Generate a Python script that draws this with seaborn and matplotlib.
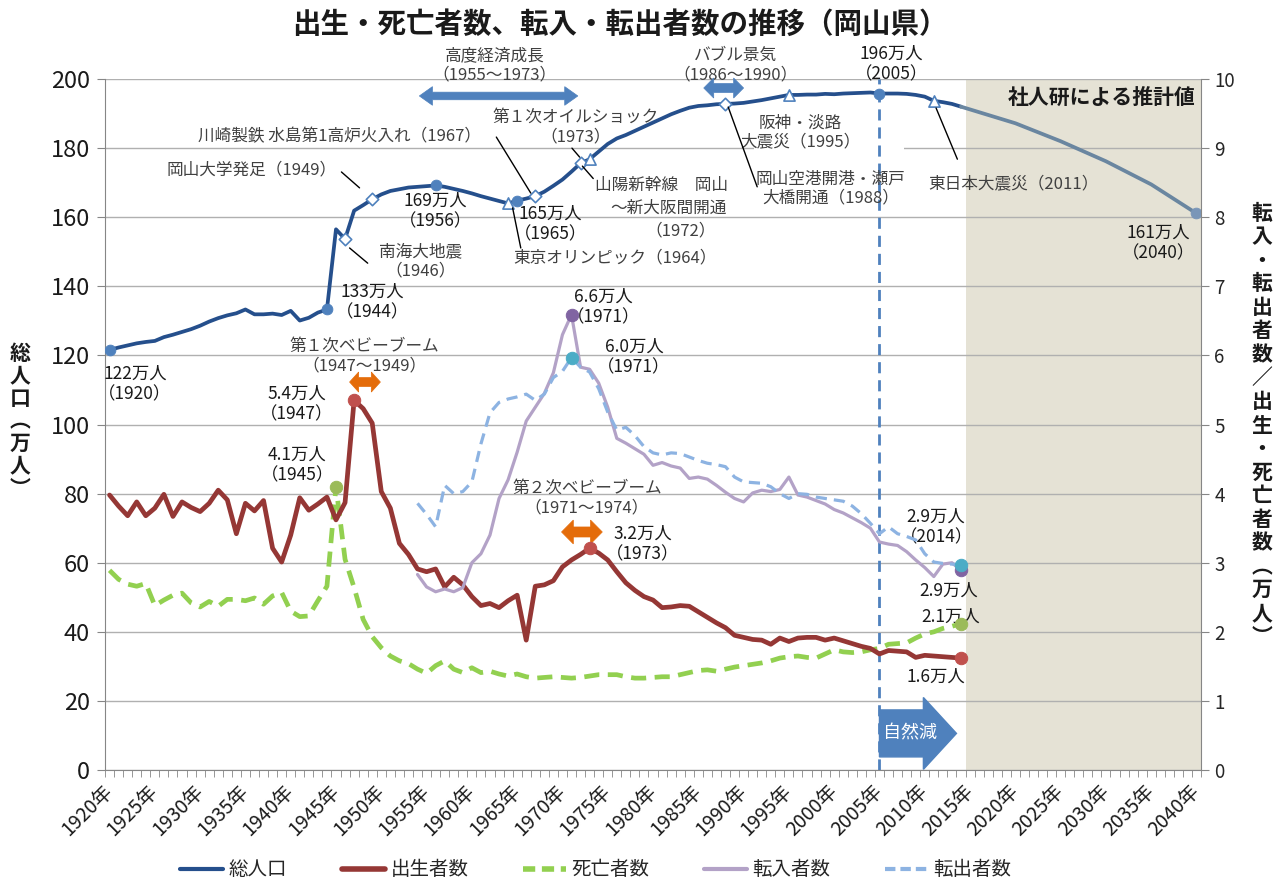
import numpy as np
import pandas as pd
import matplotlib
matplotlib.use("Agg")
import matplotlib.pyplot as plt
import seaborn as sns
from matplotlib.patches import Polygon, FancyArrow, Rectangle
from matplotlib.lines import Line2D

# === Data ===
years = list(range(1920, 2015))
total_pop = [
    121.6, 122.3, 122.9, 123.5, 123.9, 124.2, 125.3, 126.0, 126.8, 127.6,
    128.6, 129.8, 130.8, 131.6, 132.2, 133.3, 131.9, 131.9, 132.1, 131.7,
    132.9, 130.1, 130.9, 132.4, 133.3, 156.5, 153.7, 161.9, 163.5, 165.2,
    166.6, 167.6, 168.1, 168.6, 168.8, 169.0, 169.2, 168.8, 168.2, 167.6,
    166.9, 166.1, 165.4, 164.7, 164.0, 164.8, 165.4, 166.1, 167.4, 169.1,
    170.9, 173.2, 175.6, 176.8, 179.0, 181.2, 182.8, 183.8, 185.0, 186.2,
    187.4, 188.6, 189.8, 190.8, 191.7, 192.2, 192.4, 192.7, 192.8, 192.9,
    193.1, 193.5, 193.9, 194.4, 194.9, 195.4, 195.4, 195.5, 195.5, 195.7,
    195.6, 195.8, 195.9, 196.0, 196.1, 195.8, 195.8, 195.8, 195.7, 195.4,
    194.9, 193.7, 193.3, 192.8, 192.0,
]
births = [
    3.98, 3.82, 3.68, 3.88, 3.68, 3.79, 3.99, 3.67, 3.88, 3.80,
    3.74, 3.86, 4.05, 3.91, 3.42, 3.86, 3.75, 3.90, 3.21, 3.01,
    3.40, 3.94, 3.76, 3.85, 3.95, 3.62, 3.87, 5.35, 5.23, 5.02,
    4.03, 3.79, 3.28, 3.12, 2.91, 2.87, 2.91, 2.65, 2.79, 2.68,
    2.51, 2.38, 2.41, 2.35, 2.45, 2.53, 1.88, 2.66, 2.68, 2.74,
    2.94, 3.04, 3.12, 3.21, 3.14, 3.04, 2.87, 2.71, 2.60, 2.51,
    2.46, 2.35, 2.36, 2.38, 2.37, 2.29, 2.21, 2.13, 2.06, 1.95,
    1.92, 1.89, 1.88, 1.82, 1.91, 1.86, 1.91, 1.92, 1.92, 1.88,
    1.91, 1.87, 1.83, 1.79, 1.76, 1.68, 1.73, 1.72, 1.71, 1.63,
    1.66, 1.65, 1.64, 1.63, 1.62,
]
deaths = [
    2.89, 2.76, 2.69, 2.66, 2.70, 2.38, 2.46, 2.53, 2.56, 2.42,
    2.36, 2.44, 2.37, 2.47, 2.47, 2.45, 2.49, 2.40, 2.52, 2.57,
    2.30, 2.22, 2.23, 2.45, 2.66, 4.10, 3.05, 2.64, 2.18, 1.93,
    1.77, 1.65, 1.58, 1.54, 1.46, 1.40, 1.51, 1.58, 1.46, 1.41,
    1.48, 1.41, 1.43, 1.39, 1.36, 1.39, 1.35, 1.33, 1.34, 1.35,
    1.34, 1.33, 1.34, 1.36, 1.38, 1.38, 1.38, 1.35, 1.33, 1.33,
    1.34, 1.35, 1.35, 1.38, 1.41, 1.44, 1.45, 1.43, 1.46, 1.49,
    1.51, 1.53, 1.55, 1.58, 1.62, 1.64, 1.65, 1.63, 1.62, 1.68,
    1.74, 1.71, 1.70, 1.71, 1.74, 1.76, 1.82, 1.83, 1.84, 1.91,
    1.97, 2.00, 2.05, 2.08, 2.12,
]
mig_years = list(range(1954, 2015))
move_in = [
    2.83, 2.65, 2.58, 2.62, 2.58, 2.64,
    3.00, 3.13, 3.40, 3.93, 4.20, 4.60, 5.05, 5.25, 5.45, 5.75,
    6.30, 6.59, 5.83, 5.80, 5.60, 5.25, 4.80, 4.73, 4.65, 4.57,
    4.41, 4.45, 4.40, 4.37, 4.22, 4.24, 4.21, 4.12, 4.02, 3.93,
    3.88, 4.01, 4.05, 4.03, 4.06, 4.24, 3.98, 3.95, 3.90, 3.85,
    3.77, 3.72, 3.65, 3.58, 3.50, 3.30, 3.27, 3.25, 3.16, 3.04,
    2.93, 2.80, 2.98, 3.00, 2.89,
]
move_out = [
    3.86, 3.70, 3.52, 4.12, 4.00, 4.03,
    4.17, 4.72, 5.17, 5.32, 5.37, 5.40, 5.44, 5.35, 5.44, 5.68,
    5.77, 5.97, 5.83, 5.76, 5.52, 5.18, 4.92, 4.96, 4.84, 4.68,
    4.59, 4.56, 4.59, 4.58, 4.53, 4.48, 4.44, 4.42, 4.39, 4.24,
    4.17, 4.16, 4.15, 4.10, 4.00, 3.93, 4.00, 3.99, 3.95, 3.93,
    3.91, 3.89, 3.82, 3.71, 3.57, 3.42, 3.52, 3.42, 3.38, 3.33,
    3.13, 3.01, 2.99, 2.98, 2.97,
]
proj_years = [2015, 2020, 2025, 2030, 2035, 2040]
proj_pop = [191.2, 187.2, 182.0, 176.2, 169.5, 161.1]

tick_years = list(range(1920, 2041, 5))
tick_labels = [f"{y}年" for y in tick_years]
series_names = ["総人口", "出生者数", "死亡者数", "転入者数", "転出者数"]

pop_dot_years = [1920, 1944, 1956, 1965, 2005]
pop_diamond_years = [1946, 1949, 1967, 1972, 1988]
pop_triangle_years = [1964, 1973, 1995, 2011]
birth_dot_years = [1947, 1973, 2014]
death_dot_years = [1945, 2014]
mig_dot_years = [1971, 2014]

df = pd.DataFrame({"year": years, "pop": total_pop, "births": births, "deaths": deaths})
mig = pd.DataFrame({"year": mig_years, "in": move_in, "out": move_out})
proj = pd.DataFrame({"year": [years[-1]] + proj_years, "pop": [total_pop[-1]] + proj_pop})

# === Colours ===
C_POP = "#254f8c"
C_PROJ = "#6a86a0"
C_MARK = "#4f81bd"
C_BIRTH = "#953735"
C_DEATH = "#92d050"
C_IN = "#b3a2c7"
C_OUT = "#8db3e2"
C_ORANGE = "#e46c0a"
C_TXT = "#404040"
C_AX = "#868686"

sns.set_style("white")
plt.rcParams["font.family"] = ["Noto Sans CJK JP", "DejaVu Sans"]

fig = plt.figure(figsize=(12.87, 8.85), dpi=100)
ax = fig.add_axes([0.0816, 0.1299, 0.8516, 0.7808])
ax2 = ax.twinx()

ax.set_xlim(1919.5, 2040.5)
ax.set_ylim(0, 200)
ax2.set_ylim(0, 10)

# projection area + grid
ax.axvspan(2014.5, 2040.5, color="#e5e2d5", lw=0, zorder=0.2)
ax.set_yticks(range(0, 201, 20))
ax2.set_yticks(range(0, 11))
ax.grid(axis="y", color="#b0b0b0", lw=1)
ax.grid(axis="x", visible=False)
ax.set_axisbelow(True)

# === Total population (left axis) ===
sns.lineplot(data=df, x="year", y="pop", ax=ax, color=C_POP, lw=2.7, errorbar=None, zorder=3)
sns.lineplot(data=proj, x="year", y="pop", ax=ax, color=C_PROJ, lw=2.7, errorbar=None, zorder=3)
sns.scatterplot(data=df[df.year.isin(pop_dot_years)], x="year", y="pop", ax=ax,
                color=C_MARK, edgecolor=C_MARK, s=60, zorder=4)
sns.scatterplot(data=proj.tail(1), x="year", y="pop", ax=ax,
                color="#7a96b8", edgecolor="#7a96b8", s=60, zorder=4)
sns.scatterplot(data=df[df.year.isin(pop_diamond_years)], x="year", y="pop", ax=ax,
                marker="D", color="white", edgecolor=C_MARK, linewidth=1.2, s=40, zorder=4)
sns.scatterplot(data=df[df.year.isin(pop_triangle_years)], x="year", y="pop", ax=ax,
                marker="^", color="white", edgecolor=C_MARK, linewidth=1.2, s=65, zorder=4)

# === Births / deaths / migration (right axis) ===
sns.lineplot(data=df, x="year", y="deaths", ax=ax2, color=C_DEATH, lw=3.4,
             linestyle=(0, (3.2, 1.8)), errorbar=None)
sns.lineplot(data=df, x="year", y="births", ax=ax2, color=C_BIRTH, lw=3.4, errorbar=None)
sns.lineplot(data=mig, x="year", y="in", ax=ax2, color=C_IN, lw=2.3, errorbar=None)
sns.lineplot(data=mig, x="year", y="out", ax=ax2, color=C_OUT, lw=2.3,
             linestyle=(0, (3.5, 2.2)), errorbar=None)

sns.scatterplot(data=df[df.year.isin(birth_dot_years)], x="year", y="births", ax=ax2,
                color="#c0504d", edgecolor="#c0504d", s=80, zorder=5)
sns.scatterplot(data=df[df.year.isin(death_dot_years)], x="year", y="deaths", ax=ax2,
                color="#9bbb59", edgecolor="#9bbb59", s=80, zorder=5)
sns.scatterplot(data=mig[mig.year.isin(mig_dot_years)], x="year", y="in", ax=ax2,
                color="#8064a2", edgecolor="#8064a2", s=80, zorder=5)
sns.scatterplot(data=mig[mig.year.isin(mig_dot_years)], x="year", y="out", ax=ax2,
                color="#4bacc6", edgecolor="#4bacc6", s=80, zorder=5)

# 2005 marker line
ax.axvline(2005, color=C_MARK, lw=2, linestyle=(0, (4, 2.5)), zorder=1.5)

# === Axes styling ===
for a in (ax, ax2):
    a.set_xlabel("")
    a.set_ylabel("")
ax.spines["top"].set_visible(False)
ax.spines["right"].set_visible(False)
ax.spines["left"].set_color(C_AX)
ax.spines["bottom"].set_color(C_AX)
for s in ("top", "left", "bottom"):
    ax2.spines[s].set_visible(False)
ax2.spines["right"].set_color(C_AX)

ax.set_xticks(tick_years)
ax.set_xticklabels(tick_labels, rotation=45, ha="right", va="center",
                   rotation_mode="anchor", fontsize=14, color="#1a1a1a")
ax.set_xticks(np.arange(1919.5, 2041, 1), minor=True)
ax.tick_params(axis="x", which="major", length=0, pad=13)
ax.tick_params(axis="x", which="minor", length=5, color=C_AX, direction="out", bottom=True)
ax.tick_params(axis="y", length=6, color=C_AX, labelsize=17, labelcolor="#1a1a1a", left=True, pad=5)
ax2.tick_params(axis="y", length=6, color=C_AX, labelsize=13.5, labelcolor="#262626", right=True)

# === Annotations ===
def note(x, y, s, size=12, color=C_TXT, ha="center", **kw):
    ax.text(x, y, s, ha=ha, va="center", fontsize=size, color=color,
            linespacing=1.15, zorder=5, **kw)


def leader(x0, y0, x1, y1):
    ax.plot([x0, x1], [y0, y1], color="black", lw=1.0, zorder=5)


def double_arrow(x0, x1, y, body, head, head_len, color):
    pts = [(x0, y), (x0 + head_len, y + head / 2), (x0 + head_len, y + body / 2),
           (x1 - head_len, y + body / 2), (x1 - head_len, y + head / 2), (x1, y),
           (x1 - head_len, y - head / 2), (x1 - head_len, y - body / 2),
           (x0 + head_len, y - body / 2), (x0 + head_len, y - head / 2)]
    ax.add_patch(Polygon(pts, closed=True, facecolor=color, edgecolor=color,
                         lw=0.5, zorder=6, clip_on=False))


note(1962.5, 204.0, "高度経済成長\n（1955〜1973）")
note(1989.1, 204.0, "バブル景気\n（1986〜1990）")
note(1971.5, 186.1, "第１次オイルショック\n（1973）")
note(1945.4, 183.2, "川崎製鉄 水島第1高炉火入れ（1967）")
note(1935.7, 173.7, "岡山大学発足（1949）")
note(1973.6, 169.3, "山陽新幹線　岡山", ha="left")
note(1981.7, 162.7, "〜新大阪間開通")
note(1983.0, 156.0, "（1972）")
note(1975.8, 148.2, "東京オリンピック（1964）")
note(1954.3, 147.3, "南海大地震\n（1946）")
ax.add_patch(Rectangle((1991.1, 176.5), 16.6, 14.5, facecolor="white", edgecolor="none", zorder=1.2))
note(1996.3, 184.4, "阪神・淡路\n大震災（1995）")
note(1999.6, 168.2, "岡山空港開港・瀬戸\n大橋開通（1988）")
note(2019.8, 169.3, "東日本大震災（2011）")
note(1948.1, 119.8, "第１次ベビーブーム\n（1947〜1949）")
note(1972.7, 78.7, "第２次ベビーブーム\n（1971〜1974）")
ax.text(2039.9, 194.8, "社人研による推計値", ha="right", va="center",
        fontsize=15, fontweight="bold", color="#1a1a1a", zorder=5)

for x, y, s in [(2006.3, 204.3, "196万人\n（2005）"), (1956.0, 161.8, "169万人\n（1956）"),
                (1968.7, 158.0, "165万人\n（1965）"), (1949.0, 135.5, "133万人\n（1944）"),
                (1922.8, 111.7, "122万人\n（1920）"), (2035.8, 152.5, "161万人\n（2040）"),
                (1940.7, 105.9, "5.4万人\n（1947）"), (1940.7, 88.3, "4.1万人\n（1945）"),
                (1974.5, 134.0, "6.6万人\n（1971）"), (1977.9, 119.5, "6.0万人\n（1971）"),
                (1978.9, 65.4, "3.2万人\n（1973）"), (2011.25, 70.3, "2.9万人\n（2014）"),
                (2012.6, 51.8, "2.9万人"), (2012.9, 44.3, "2.1万人"), (2011.25, 26.9, "1.6万人")]:
    note(x, y, s, size=12.5, color="#1a1a1a")

leader(1962.7, 183.2, 1966.5, 167.0)
leader(1945.6, 173.1, 1947.6, 168.5)
leader(1971.05, 180.0, 1971.9, 177.4)
leader(1972.2, 174.8, 1973.4, 171.2)
leader(1964.5, 162.7, 1965.4, 151.1)
leader(1946.5, 151.1, 1948.5, 146.7)
leader(1988.3, 191.9, 1991.5, 168.8)
leader(2011.25, 191.6, 2013.6, 176.8)

double_arrow(1954.2, 1971.7, 195.1, 2.2, 5.4, 1.45, C_MARK)
double_arrow(1985.6, 1990.0, 197.4, 2.6, 5.8, 1.1, C_MARK)
double_arrow(1946.5, 1949.9, 112.3, 2.6, 5.8, 1.0, C_ORANGE)
double_arrow(1969.9, 1974.4, 68.9, 2.9, 6.9, 1.3, C_ORANGE)

ax.add_patch(FancyArrow(2005, 10.6, 8.5, 0, width=13.6, head_width=20.8, head_length=3.65,
                        length_includes_head=True, facecolor=C_MARK, edgecolor=C_MARK, zorder=1.3))
ax.text(2008.4, 10.6, "自然減", ha="center", va="center", fontsize=13, color="white", zorder=1.4)

# === Titles / axis labels ===
fig.text(0.482, 0.972, "出生・死亡者数、転入・転出者数の推移（岡山県）", ha="center", va="center",
         fontsize=20.5, fontweight="bold", color="#1a1a1a")
fig.text(20 / 1287, 1 - 421 / 885, "\n".join("総人口︵万人︶"), ha="center", va="center",
         fontsize=15, fontweight="bold", linespacing=1.08, color="#1a1a1a")
fig.text(1262 / 1287, 1 - 425 / 885, "\n".join("転入・転出者数／出生・死亡者数︵万人︶"),
         ha="center", va="center", fontsize=15, fontweight="bold", linespacing=1.15, color="#1a1a1a")

handles = [
    Line2D([], [], color=C_POP, lw=3),
    Line2D([], [], color=C_BIRTH, lw=4),
    Line2D([], [], color=C_DEATH, lw=4, linestyle=(0, (2.2, 1.2))),
    Line2D([], [], color=C_IN, lw=3),
    Line2D([], [], color=C_OUT, lw=3, linestyle=(0, (2.5, 1.2))),
]
fig.legend(handles, series_names, loc="center", bbox_to_anchor=(0.463, 0.017), ncol=5,
           frameon=False, fontsize=14, handlelength=2.2, handletextpad=0.3, columnspacing=2.8)

fig.savefig("out.png", dpi=100)
